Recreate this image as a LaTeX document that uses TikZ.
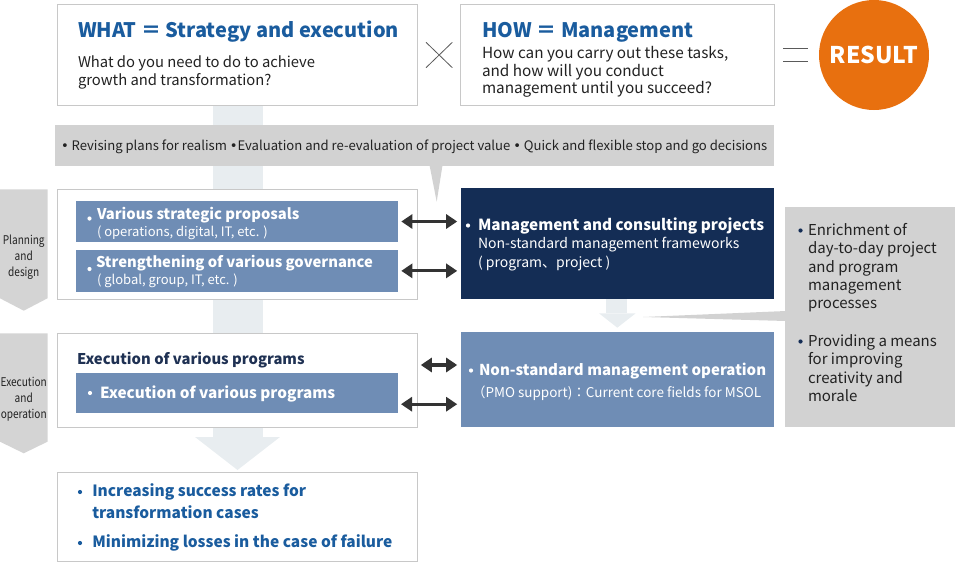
\documentclass[tikz,border=0pt]{standalone}
\usepackage{fontspec}
\setmainfont{Noto Sans CJK JP}
\newfontfamily\condfont{Noto Sans CJK JP}[FakeStretch=0.84]
\newfontfamily\bulfont{DejaVu Sans}
\usetikzlibrary{arrows.meta}
\definecolor{titleblue}{RGB}{26,92,158}
\definecolor{barblue}{RGB}{111,141,181}
\definecolor{navy}{RGB}{20,45,85}
\definecolor{lgray}{RGB}{210,210,210}
\definecolor{chev}{RGB}{212,212,212}
\definecolor{band}{RGB}{232,237,240}
\definecolor{orng}{RGB}{232,112,15}
\definecolor{bord}{RGB}{200,200,200}
\definecolor{arr}{RGB}{51,51,51}
\definecolor{txt}{RGB}{34,34,34}
\definecolor{hdr}{RGB}{31,49,83}
\definecolor{xcol}{RGB}{90,90,90}
\newcommand{\fs}[2]{\fontsize{#1}{#2}\selectfont}
\newcommand{\bu}{{\bulfont\char"2022}}
\begin{document}
\begin{tikzpicture}[x=1pt,y=-1pt,
  box/.style={rectangle, anchor=north west, inner sep=0pt, outer sep=0pt},
  wbox/.style={box, draw=bord, fill=white, line width=1pt},
  bar/.style={box, fill=barblue},
  lbl/.style={anchor=base west, inner sep=0pt, outer sep=0pt},
  dbl/.style={{Triangle[length=11pt,width=14pt]}-{Triangle[length=11pt,width=14pt]}, line width=3.2pt, draw=arr},
  bdot/.style={circle, fill=#1, inner sep=0pt, minimum size=4.2pt},
]
\useasboundingbox (0,0) rectangle (956,563);

% background band with arrow
\fill[band] (212.5,105) rectangle (262.5,437);
\fill[band] (195,437) -- (280,437) -- (237.5,470) -- cycle;
% small pale arrow
\fill[band] (606,299) rectangle (626.7,313.3);
\fill[band] (599,313.3) -- (635.7,313.3) -- (617.3,327.7) -- cycle;

% top boxes
\node[wbox, minimum width=360pt, minimum height=100.7pt] (what) at (57.3,4.3) {};
\node[wbox, minimum width=313.6pt, minimum height=100.7pt] (how) at (460.7,4.3) {};
\node[lbl, font=\bfseries\fs{20}{24}, text=titleblue] (whatT) at (78,37.7) {WHAT ＝ Strategy and execution};
\node[lbl, font=\fs{14.8}{18}, text=txt] (whatL1) at (78,67.7) {What do you need to do to achieve};
\node[lbl, font=\fs{14.8}{18}, text=txt] (whatL2) at (78,85.7) {growth and transformation?};
\node[lbl, font=\bfseries\fs{20}{24}, text=titleblue] (howT) at (482,37.7) {HOW ＝ Management};
\node[lbl, font=\fs{15.3}{18}, text=txt] (howL1) at (482,58.3) {How can you carry out these tasks,};
\node[lbl, font=\fs{15.3}{18}, text=txt] (howL2) at (482,76) {and how will you conduct};
\node[lbl, font=\fs{15.3}{18}, text=txt] (howL3) at (482,93.3) {management until you succeed?};
\draw[xcol, line width=0.8pt] (426,42.3) -- (452.3,67.7) (426,67.7) -- (452.3,42.3);
\draw[xcol, line width=0.8pt] (783.3,48.3) -- (808.3,48.3) (783.3,61.7) -- (808.3,61.7);
\node[circle, fill=orng, minimum size=110pt, inner sep=0pt, text=white, font=\bfseries\fs{23}{26}] (result) at (874,55) {RESULT};

% banner
\node[box, fill=lgray, minimum width=719pt, minimum height=40.7pt] (banner) at (55,125) {};
\fill[lgray] (429.3,164) -- (442.7,164) -- (436.7,201.7) -- cycle;
\node[lbl, font=\fs{13.1}{16}, text=txt] (bannerT) at (61,150) {\bu\ Revising plans for realism \bu Evaluation and re-evaluation of project value \bu\ Quick and flexible stop and go decisions};

% chevrons
\fill[chev] (0,189.3) -- (47.5,189.3) -- (47.5,298.3) -- (23.75,310.7) -- (0,298.3) -- cycle;
\node[align=center, font=\condfont\fs{12}{16}, text=txt, inner sep=0pt] (pd) at (23.75,257) {Planning\\and\\design};
\fill[chev] (0,333.3) -- (47.5,333.3) -- (47.5,441.7) -- (23.75,453.3) -- (0,441.7) -- cycle;
\node[align=center, font=\condfont\fs{12}{16}, text=txt, inner sep=0pt] (eo) at (23.75,399.3) {Execution\\and\\operation};

% planning box
\node[wbox, minimum width=360pt, minimum height=110pt] (plan) at (57.3,189.3) {};
\node[bar, minimum width=322pt, minimum height=41.6pt] (b1) at (76.3,200.7) {};
\node[bar, minimum width=322pt, minimum height=41.7pt] (b2) at (76.3,250) {};
\node[bdot=white] (b1d) at (89.5,218.5) {};
\node[lbl, font=\bfseries\fs{14.8}{18}, text=white] (b1T) at (97,219.3) {Various strategic proposals};
\node[lbl, font=\fs{13}{15}, text=white] (b1S) at (97,236.7) {( operations, digital, IT, etc. )};
\node[bdot=white] (b2d) at (89.5,269) {};
\node[lbl, font=\bfseries\fs{14.8}{18}, text=white] (b2T) at (96,267.3) {Strengthening of various governance};
\node[lbl, font=\fs{13}{15}, text=white] (b2S) at (97,284.3) {( global, group, IT, etc. )};

% navy box
\node[box, fill=navy, minimum width=313.6pt, minimum height=111.3pt] (navyb) at (460.7,188) {};
\node[bdot=white] (nd) at (468,225.5) {};
\node[lbl, font=\bfseries\fs{15.3}{19}, text=white] (nT) at (478,230.5) {Management and consulting projects};
\node[lbl, font=\fs{14}{17}, text=white] (nS1) at (478,248.7) {Non-standard management frameworks};
\node[lbl, font=\fs{14}{17}, text=white] (nS2) at (478,267) {( program、project )};

% right gray box
\node[box, fill=lgray, minimum width=170pt, minimum height=220pt] (rbox) at (785,206.7) {};
\fill[lgray] (786,311) -- (643,317) -- (786,321) -- cycle;
\node[bdot=navy] (rd1) at (800.5,230.5) {};
\node[lbl, font=\fs{15}{18}, text=txt] (r1) at (808,235.5) {Enrichment of};
\node[lbl, font=\fs{15}{18}, text=txt] (r2) at (808,253.8) {day-to-day project};
\node[lbl, font=\fs{15}{18}, text=txt] (r3) at (808,272) {and program};
\node[lbl, font=\fs{15}{18}, text=txt] (r4) at (808,290.3) {management};
\node[lbl, font=\fs{15}{18}, text=txt] (r5) at (808,308.6) {processes};
\node[bdot=navy] (rd2) at (800.5,341.5) {};
\node[lbl, font=\fs{15}{18}, text=txt] (r6) at (808,346.5) {Providing a means};
\node[lbl, font=\fs{15}{18}, text=txt] (r7) at (808,364.8) {for improving};
\node[lbl, font=\fs{15}{18}, text=txt] (r8) at (808,383) {creativity and};
\node[lbl, font=\fs{15}{18}, text=txt] (r9) at (808,401.3) {morale};

% execution box
\node[wbox, minimum width=360pt, minimum height=94pt] (exec) at (57.3,333.3) {};
\node[lbl, font=\bfseries\fs{14.8}{19}, text=hdr] (exH) at (77,364) {Execution of various programs};
\node[bar, minimum width=322pt, minimum height=40pt] (exbar) at (76.3,372.7) {};
\node[bdot=white] (exd) at (90,393) {};
\node[lbl, font=\bfseries\fs{15.3}{19}, text=white] (exT) at (100,398.3) {Execution of various programs};

% medium blue box
\node[box, fill=barblue, minimum width=313.6pt, minimum height=95.6pt] (med) at (460.7,331.7) {};
\node[bdot=white] (md) at (471,370.5) {};
\node[lbl, font=\bfseries\fs{15}{19}, text=white] (mT) at (479,375) {Non-standard management operation};
\node[lbl, font=\fs{13.5}{16}, text=white] (mS) at (472,397.3) {（PMO support)：Current core fields for MSOL};

% result box
\node[wbox, minimum width=360pt, minimum height=89.7pt] (res) at (57.3,472) {};
\node[bdot=titleblue] (rsd1) at (80,492) {};
\node[lbl, font=\bfseries\fs{15.5}{19}, text=titleblue] (rs1) at (92.3,496.7) {Increasing success rates for};
\node[lbl, font=\bfseries\fs{15.5}{19}, text=titleblue] (rs2) at (92.3,518.3) {transformation cases};
\node[bdot=titleblue] (rsd2) at (80,543) {};
\node[lbl, font=\bfseries\fs{15.5}{19}, text=titleblue] (rs3) at (92.3,547.7) {Minimizing losses in the case of failure};

% double arrows
\draw[dbl, shorten <=3pt, shorten >=3.5pt] (b1.east) -- (b1.east -| navyb.west);
\draw[dbl, shorten <=3pt, shorten >=3.5pt] (b2.east) -- (b2.east -| navyb.west);
\coordinate (ea) at ([yshift=15.3pt]exec.east);
\draw[dbl, shorten <=3.5pt, shorten >=3.5pt] (ea) -- (ea -| med.west);
\coordinate (eb) at ([yshift=-11.5pt]exbar.east);
\draw[dbl, shorten <=2.7pt, shorten >=3.5pt] (eb) -- (eb -| med.west);
\end{tikzpicture}
\end{document}
